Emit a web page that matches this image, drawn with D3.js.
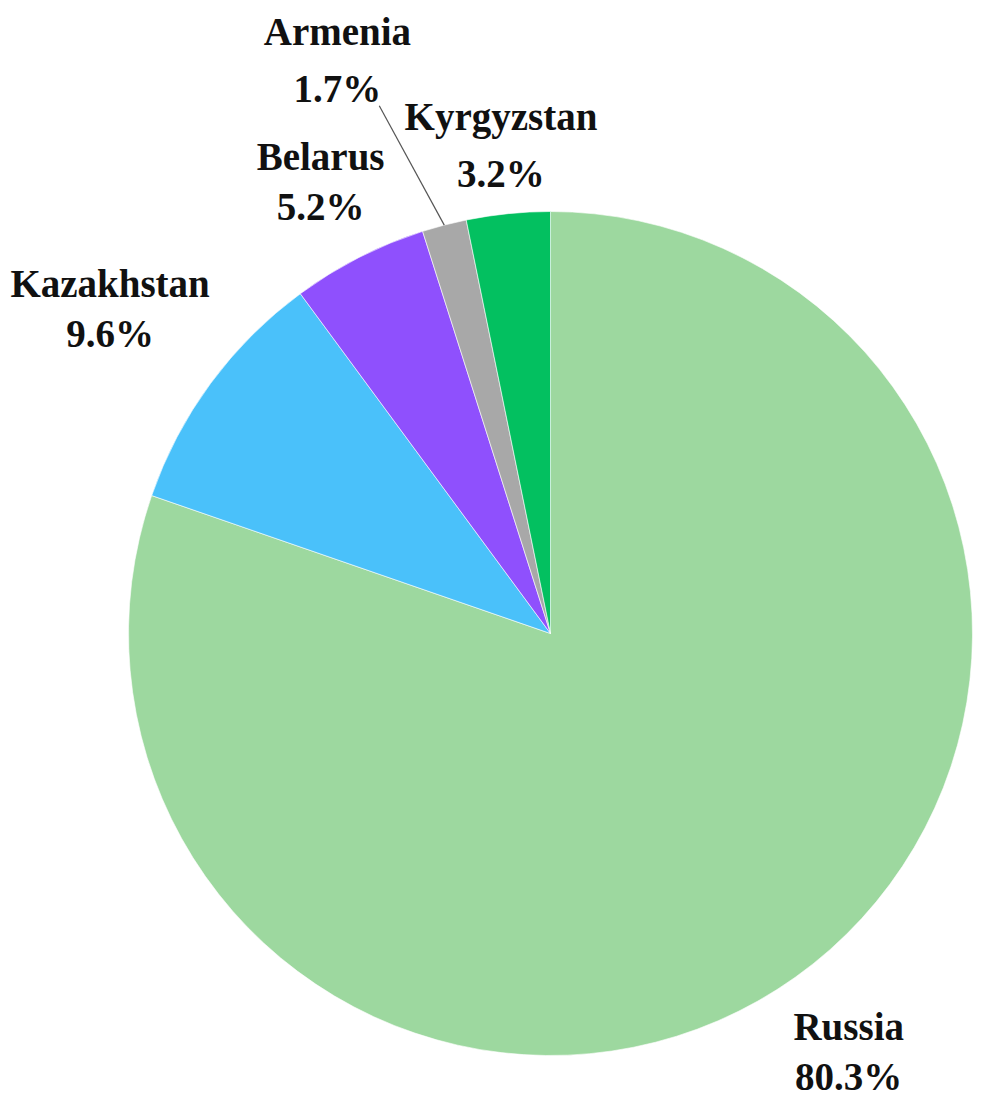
<!DOCTYPE html>
<html>
<head>
<meta charset="utf-8">
<script src="https://cdn.jsdelivr.net/npm/d3@7"></script>
<style>
  body { margin: 0; background: #ffffff; }
</style>
</head>
<body>
<div class="pie_chart"></div>
<script>
// Data
var countries = ["Russia", "Kazakhstan", "Belarus", "Armenia", "Kyrgyzstan"];
var shares = [80.3, 9.6, 5.2, 1.7, 3.2];
var colors = ["#9dd89f", "#4ac1fa", "#8f50fd", "#a8a8a8", "#03c060"];

// Label placement: distance from centre (x radius) and angle shift (degrees)
var labelDist = [1.218, 1.296, 1.200, 1.457, 1.170];
var labelShift = [0, 0, 0, -5.7, 0];

var width = 992, height = 1103;
var cx = 550.5, cy = 633.5, radius = 422;

var svg = d3.select(".pie_chart")
  .append("svg")
  .attr("width", width)
  .attr("height", height)
  .append("g")
  .attr("transform", "translate(" + cx + "," + cy + ")");

var data = countries.map(function(c, i) {
  return {name: c, value: shares[i], color: colors[i], dist: labelDist[i], shift: labelShift[i]};
});

var pie = d3.pie()
  .sort(null)
  .value(d => d.value);

var arc = d3.arc()
  .innerRadius(0)
  .outerRadius(radius);

var arcs = pie(data);

svg.selectAll(".slice")
  .data(arcs)
  .enter()
  .append("path")
    .attr("class", "slice")
    .attr("d", arc)
    .attr("fill", d => d.data.color)
    .attr("stroke", "#ffffff")
    .attr("stroke-width", 0.6);

// Labels
function midAngle(d) { return (d.startAngle + d.endAngle) / 2; }
function labelPoint(d) {
  var a = midAngle(d) + d.data.shift * Math.PI / 180, r = radius * d.data.dist;
  return [Math.sin(a) * r, -Math.cos(a) * r];
}

var labels = svg.selectAll(".label")
  .data(arcs)
  .enter()
  .append("text")
    .attr("class", "label")
    .style("font-family", "'Liberation Serif', 'Times New Roman', serif")
    .style("font-weight", "bold")
    .style("font-size", "39px")
    .attr("fill", "#111111")
    .attr("text-anchor", "middle")
    .attr("transform", d => "translate(" + labelPoint(d) + ")");

labels.append("tspan")
  .attr("x", 0)
  .attr("y", -12)
  .text(d => d.data.name);

labels.append("tspan")
  .attr("class", "pct")
  .attr("x", 0)
  .attr("y", d => d.data.name === "Armenia" || d.data.name === "Kyrgyzstan" ? 45 : 38)
  .text(d => d.data.value.toFixed(1) + "%");

// Leader line for the small Armenia slice
labels.filter(d => d.data.name === "Armenia").each(function(d) {
  var a = midAngle(d);
  var p = labelPoint(d);
  var t = d3.select(this).select(".pct").node().getBBox();
  svg.append("line")
    .attr("x1", p[0] + t.x + t.width - 2)
    .attr("y1", p[1] + t.y + t.height - 4)
    .attr("x2", Math.sin(a) * radius)
    .attr("y2", -Math.cos(a) * radius)
    .attr("stroke", "#555555")
    .attr("stroke-width", 1.2);
});
</script>
</body>
</html>
